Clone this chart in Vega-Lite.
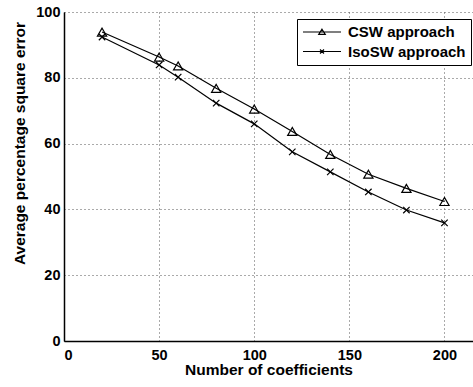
{
  "$schema": "https://vega.github.io/schema/vega-lite/v6.json",
  "width": 409,
  "height": 329,
  "autosize": {"type": "none"},
  "padding": {"left": 64, "top": 12, "right": 0, "bottom": 46},
  "background": "white",
  "config": {
    "view": {"stroke": null},
    "font": "Liberation Sans",
    "axis": {
      "labelFont": "Liberation Sans",
      "labelFontSize": 14.5,
      "labelFontWeight": "bold",
      "labelColor": "black",
      "titleFont": "Liberation Sans",
      "titleFontSize": 15.5,
      "titleFontWeight": "bold",
      "titleColor": "black",
      "domainColor": "black",
      "domainWidth": 1.5,
      "ticks": false,
      "grid": true,
      "gridColor": "#555555",
      "gridDash": [1, 3],
      "gridWidth": 1
    }
  },
  "data": {
    "values": [
      {"n": 20, "err": 93.9, "series": "CSW approach"},
      {"n": 50, "err": 86.3, "series": "CSW approach"},
      {"n": 60, "err": 83.6, "series": "CSW approach"},
      {"n": 80, "err": 76.8, "series": "CSW approach"},
      {"n": 100, "err": 70.5, "series": "CSW approach"},
      {"n": 120, "err": 63.7, "series": "CSW approach"},
      {"n": 140, "err": 56.7, "series": "CSW approach"},
      {"n": 160, "err": 50.7, "series": "CSW approach"},
      {"n": 180, "err": 46.4, "series": "CSW approach"},
      {"n": 200, "err": 42.4, "series": "CSW approach"},
      {"n": 20, "err": 92.4, "series": "IsoSW approach"},
      {"n": 50, "err": 83.9, "series": "IsoSW approach"},
      {"n": 60, "err": 80.2, "series": "IsoSW approach"},
      {"n": 80, "err": 72.3, "series": "IsoSW approach"},
      {"n": 100, "err": 66.0, "series": "IsoSW approach"},
      {"n": 120, "err": 57.5, "series": "IsoSW approach"},
      {"n": 140, "err": 51.4, "series": "IsoSW approach"},
      {"n": 160, "err": 45.3, "series": "IsoSW approach"},
      {"n": 180, "err": 39.8, "series": "IsoSW approach"},
      {"n": 200, "err": 35.9, "series": "IsoSW approach"}
    ]
  },
  "encoding": {
    "x": {
      "field": "n",
      "type": "quantitative",
      "scale": {"domain": [0, 215], "nice": false, "zero": false},
      "axis": {"values": [0, 50, 100, 150, 200], "title": "Number of coefficients", "labelPadding": 7, "titlePadding": 1}
    },
    "y": {
      "field": "err",
      "type": "quantitative",
      "scale": {"domain": [0, 100], "nice": false},
      "axis": {"values": [0, 20, 40, 60, 80, 100], "title": "Average percentage square error", "labelPadding": 4, "titlePadding": 8, "titleY": 131}
    }
  },
  "layer": [
    {
      "mark": {"type": "line", "color": "black", "strokeWidth": 1.2},
      "encoding": {"detail": {"field": "series"}}
    },
    {
      "mark": {"type": "point", "filled": false, "color": "black", "strokeWidth": 1.2, "size": 85, "opacity": 1},
      "encoding": {
        "shape": {
          "field": "series",
          "type": "nominal",
          "scale": {
            "domain": ["CSW approach", "IsoSW approach"],
            "range": ["triangle-up", "M-0.7,-0.7L0.7,0.7M-0.7,0.7L0.7,-0.7"]
          },
          "legend": null
        }
      }
    },
    {
      "transform": [{"filter": "datum.n < 0"}],
      "mark": {"type": "point", "filled": false, "color": "black", "strokeWidth": 1.2, "opacity": 1},
      "encoding": {
        "shape": {
          "field": "series",
          "type": "nominal",
          "scale": {
            "domain": ["CSW approach", "IsoSW approach"],
            "range": ["M-1,0L4.43,0M1.714,-0.4L2.18,0.33L1.25,0.33Z", "M-1,0L4.43,0M1.43,-0.29L2,0.29M1.43,0.29L2,-0.29"]
          },
          "legend": {
            "title": null,
            "orient": "none",
            "legendX": 233,
            "legendY": 7,
            "padding": 5,
            "fillColor": "white",
            "strokeColor": "black",
            "labelFont": "Liberation Sans",
            "labelFontSize": 15,
            "labelFontWeight": "bold",
            "labelColor": "black",
            "labelOffset": 30,
            "symbolSize": 196,
            "rowPadding": 3.5,
            "symbolStrokeColor": "black",
            "symbolFillColor": "transparent",
            "symbolStrokeWidth": 1.2,
            "encode": {"legend": {"update": {"strokeWidth": {"value": 1.8}}}}
          }
        }
      }
    }
  ],
  "resolve": {"scale": {"shape": "independent"}}
}
